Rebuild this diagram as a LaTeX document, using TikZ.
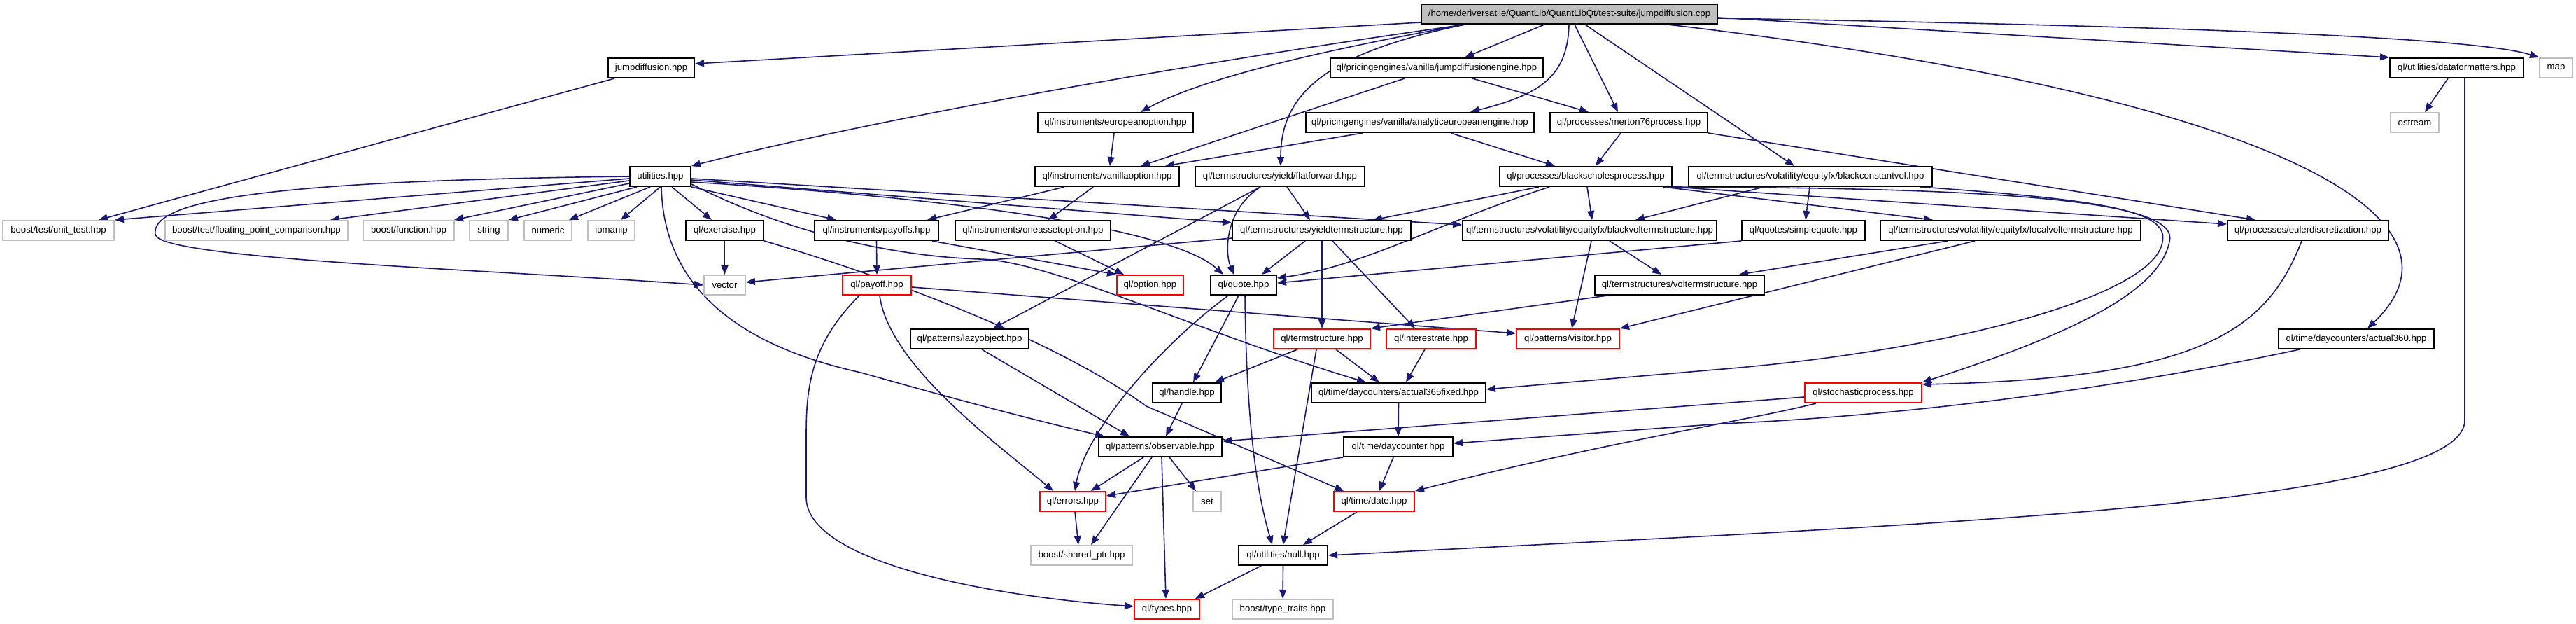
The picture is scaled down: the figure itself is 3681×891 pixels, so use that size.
\documentclass[tikz,border=0pt]{standalone}
\usepackage{fontspec}
\setmainfont{Liberation Sans}
\usetikzlibrary{arrows.meta}
\definecolor{edgecol}{HTML}{191970}
\definecolor{greyb}{HTML}{BFBFBF}
\definecolor{redb}{HTML}{FF0000}
\pgfdeclarelayer{back}
\pgfdeclarelayer{edges}
\pgfsetlayers{back,edges,main}
\tikzset{
  box/.style={draw=black, line width=2pt, fill=white, minimum height=28pt, inner sep=0pt, font=\fontsize{13.2}{15}\selectfont, text=black},
  ext/.style={box, draw=greyb},
  trunc/.style={box, draw=redb},
  root/.style={box, fill=greyb},
  dep/.style={draw=edgecol, line width=1.6pt, -{Triangle[length=13pt,width=10pt]}},
}
\begin{document}
\begin{tikzpicture}[x=1pt,y=-1pt]
\useasboundingbox (0,0) rectangle (3681,891);
\begin{pgfonlayer}{back}
\fill[white] (0,0) rectangle (3681,891);
\end{pgfonlayer}
% row 0
\node[root, minimum width=423pt] (main) at (2242.5,20) {/home/deriversatile/QuantLib/QuantLibQt/test-suite/jumpdiffusion.cpp};
% row 1
\node[box, minimum width=123pt] (jd) at (930.5,97) {jumpdiffusion.hpp};
\node[box, minimum width=304pt] (jde) at (2053,97) {ql/pricingengines/vanilla/jumpdiffusionengine.hpp};
\node[box, minimum width=191pt] (df) at (3510.5,97) {ql/utilities/dataformatters.hpp};
\node[ext, minimum width=47pt] (map) at (3652.5,97) {map};
% row 2
\node[box, minimum width=222pt] (eo) at (1594,175) {ql/instruments/europeanoption.hpp};
\node[box, minimum width=326pt] (aee) at (2029,175) {ql/pricingengines/vanilla/analyticeuropeanengine.hpp};
\node[box, minimum width=225pt] (m76) at (2327.5,175) {ql/processes/merton76process.hpp};
\node[ext, minimum width=69pt] (ostream) at (3450.5,175) {ostream};
% row 3
\node[box, minimum width=87pt] (util) at (943.5,252) {utilities.hpp};
\node[box, minimum width=206pt] (vo) at (1582,252) {ql/instruments/vanillaoption.hpp};
\node[box, minimum width=242pt] (ff) at (1829,252) {ql/termstructures/yield/flatforward.hpp};
\node[box, minimum width=246pt] (bsp) at (2266,252) {ql/processes/blackscholesprocess.hpp};
\node[box, minimum width=348pt] (bcv) at (2587,252) {ql/termstructures/volatility/equityfx/blackconstantvol.hpp};
% row 4
\node[ext, minimum width=159pt] (ut) at (83.5,329) {boost/test/unit\_test.hpp};
\node[ext, minimum width=261pt] (fpc) at (366.5,329) {boost/test/floating\_point\_comparison.hpp};
\node[ext, minimum width=130pt] (fn) at (584,329) {boost/function.hpp};
\node[ext, minimum width=55pt] (str) at (698.5,329) {string};
\node[ext, minimum width=68pt] (num) at (783,329) {numeric};
\node[ext, minimum width=67pt] (iom) at (873.5,329) {iomanip};
\node[box, minimum width=111pt] (ex) at (1035.5,329) {ql/exercise.hpp};
\node[box, minimum width=177pt] (pays) at (1252.5,329) {ql/instruments/payoffs.hpp};
\node[box, minimum width=222pt] (oao) at (1476,329) {ql/instruments/oneassetoption.hpp};
\node[box, minimum width=255pt] (yts) at (1888.5,329) {ql/termstructures/yieldtermstructure.hpp};
\node[box, minimum width=363pt] (bvts) at (2271.5,329) {ql/termstructures/volatility/equityfx/blackvoltermstructure.hpp};
\node[box, minimum width=176pt] (sq) at (2577,329) {ql/quotes/simplequote.hpp};
\node[box, minimum width=372pt] (lvts) at (2873,329) {ql/termstructures/volatility/equityfx/localvoltermstructure.hpp};
\node[box, minimum width=230pt] (eul) at (3298,329) {ql/processes/eulerdiscretization.hpp};
% row 5
\node[ext, minimum width=59pt] (vec) at (1035.5,407) {vector};
\node[trunc, minimum width=98pt] (pay) at (1253,407) {ql/payoff.hpp};
\node[trunc, minimum width=95pt] (opt) at (1643.5,407) {ql/option.hpp};
\node[box, minimum width=94pt] (quote) at (1777,407) {ql/quote.hpp};
\node[box, minimum width=242pt] (vts) at (2400,407) {ql/termstructures/voltermstructure.hpp};
% row 6
\node[box, minimum width=169pt] (lazy) at (1385.5,484) {ql/patterns/lazyobject.hpp};
\node[trunc, minimum width=138pt] (ts) at (1889,484) {ql/termstructure.hpp};
\node[trunc, minimum width=128pt] (ir) at (2045,484) {ql/interestrate.hpp};
\node[trunc, minimum width=147pt] (vis) at (2240.5,484) {ql/patterns/visitor.hpp};
\node[box, minimum width=222pt] (a360) at (3367,484) {ql/time/daycounters/actual360.hpp};
% row 7
\node[box, minimum width=98pt] (handle) at (1696,561) {ql/handle.hpp};
\node[box, minimum width=249pt] (a365) at (1998.5,561) {ql/time/daycounters/actual365fixed.hpp};
\node[trunc, minimum width=167pt] (sp) at (2662.5,561) {ql/stochasticprocess.hpp};
% row 8
\node[box, minimum width=176pt] (obs) at (1658,638) {ql/patterns/observable.hpp};
\node[box, minimum width=156pt] (dc) at (1998,638) {ql/time/daycounter.hpp};
% row 9
\node[trunc, minimum width=94pt] (err) at (1533,716) {ql/errors.hpp};
\node[ext, minimum width=40pt] (set) at (1725,716) {set};
\node[trunc, minimum width=115pt] (date) at (1963.5,716) {ql/time/date.hpp};
% row 10
\node[ext, minimum width=145pt] (sptr) at (1545.5,793) {boost/shared\_ptr.hpp};
\node[box, minimum width=127pt] (null) at (1833.5,793) {ql/utilities/null.hpp};
% row 11
\node[trunc, minimum width=93pt] (types) at (1667.5,870) {ql/types.hpp};
\node[ext, minimum width=144pt] (tt) at (1833,870) {boost/type\_traits.hpp};

\begin{pgfonlayer}{edges}
% main
\draw[dep] ([yshift=-12pt]main.west) -- ([yshift=6pt]jd.east);
\draw[dep] ([xshift=-149.5pt]main.south) .. controls (1700,90) and (1250,170) .. (util.north east);
\draw[dep] ([xshift=-149.5pt]main.south) .. controls (1900,70) and (1720,110) .. ([xshift=36pt]eo.north);
\draw[dep] ([xshift=-149.5pt]main.south) .. controls (1900,75) and (1830,130) .. ([xshift=1pt]ff.north);
\draw[dep] ([xshift=-35.5pt]main.south) -- ([xshift=40pt]jde.north);
\draw[dep] ([xshift=-0.5pt]main.south) .. controls (2240,110) and (2200,135) .. ([xshift=72pt]aee.north);
\draw[dep] ([xshift=7.5pt]main.south) -- ([xshift=-15.5pt]m76.north);
\draw[dep] ([xshift=22.5pt]main.south) -- ([xshift=-23pt]bcv.north);
\draw[dep] ([yshift=-5pt]main.east) -- (df.north west);
\draw[dep] ([yshift=-6pt]main.east) .. controls (3300,40) and (3560,60) .. (map.north west);
\draw[dep] ([xshift=140.5pt]main.south) .. controls (3200,130) and (3560,300) .. ([xshift=16pt]a360.north);
% jumpdiffusion
\draw[dep] ([xshift=-52.5pt]jd.south) -- ([xshift=57.5pt]ut.north);
% utilities
\draw[dep] ([yshift=-3pt]util.west) -- (ut.north east);
\draw[dep] ([yshift=-6pt]util.west) -- ([xshift=105.5pt]fpc.north);
\draw[dep] ([yshift=-10pt]util.west) -- ([xshift=65pt]fn.north);
\draw[dep] ([xshift=-33.5pt]util.south) -- (str.north east);
\draw[dep] ([xshift=-14.5pt]util.south) -- ([xshift=30pt]num.north);
\draw[dep] (util.south) -- ([xshift=13.5pt]iom.north);
\draw[dep] ([xshift=16.5pt]util.south) -- ([xshift=-18.5pt]ex.north);
\draw[dep] (util.south east) -- ([xshift=-57.5pt]pays.north);
\draw[dep] ([yshift=-5pt]util.east) -- ([yshift=11pt]yts.west);
\draw[dep] ([yshift=-3pt]util.east) -- ([yshift=8pt]bvts.west);
\draw[dep] ([yshift=-8pt]util.east) .. controls (1400,285) and (1680,330) .. ([xshift=-29pt]quote.north);
\draw[dep] ([yshift=-11pt]util.east) .. controls (1100,320) and (1250,365) .. (1400,370) .. controls (1500,372) and (1700,470) .. ([xshift=-46.5pt]a365.north);
\draw[dep] ([xshift=1.5pt]util.south) .. controls (948,400) and (1040,490) .. (1230,532) .. controls (1400,580) and (1500,605) .. ([xshift=-80pt]obs.north);
\draw[dep] (util.west) .. controls (350,258) and (215,290) .. (222,335) .. controls (230,370) and (700,385) .. (vec.west);
% row 1-2
\draw[dep] ([xshift=-2pt]eo.south) -- ([xshift=4pt]vo.north);
\draw[dep] ([xshift=-46pt]jde.south) -- ([xshift=48pt]vo.north);
\draw[dep] ([xshift=51pt]jde.south) -- ([xshift=-57.5pt]m76.north);
\draw[dep] ([xshift=-82pt]aee.south) -- ([xshift=83pt]vo.north);
\draw[dep] ([xshift=44pt]aee.south) -- ([xshift=-44pt]bsp.north);
\draw[dep] ([xshift=-11.5pt]m76.south) -- ([xshift=14pt]bsp.north);
\draw[dep] (m76.south east) -- ([xshift=-75pt]eul.north);
\draw[dep] ([xshift=-12.5pt]df.south) -- ([xshift=14.5pt]ostream.north);
\draw[dep] ([xshift=11.5pt]df.south) -- (3522,600) .. controls (3522,700) and (3000,735) .. (2450,765) -- (null.east);
% row 3
\draw[dep] ([xshift=-61pt]vo.south) -- ([xshift=72.5pt]pays.north);
\draw[dep] ([xshift=-20pt]vo.south) -- ([xshift=22pt]oao.north);
\draw[dep] ([xshift=10pt]ff.south) -- ([xshift=-16.5pt]yts.north);
\draw[dep] ([xshift=-28pt]ff.south) .. controls (1750,300) and (1750,360) .. ([xshift=-14pt]quote.north);
\draw[dep] ([xshift=-28pt]ff.south) -- ([xshift=33.5pt]lazy.north);
\draw[dep] ([xshift=-67pt]bsp.south) -- ([xshift=73.5pt]yts.north);
\draw[dep] ([xshift=-52pt]bsp.south) .. controls (2050,320) and (1950,380) .. ([yshift=10pt]quote.east);
\draw[dep] ([xshift=2pt]bsp.south) -- ([xshift=3.5pt]bvts.north);
\draw[dep] ([xshift=111pt]bsp.south) -- ([xshift=-111pt]lvts.north);
\draw[dep] (bsp.south east) -- ([yshift=9pt]eul.west);
\draw[dep] ([xshift=118pt]bsp.south) .. controls (2900,268) and (3115,290) .. (3100,345) .. controls (3085,420) and (2950,480) .. (sp.north east);
\draw[dep] ([xshift=-67pt]bcv.south) -- ([xshift=65.5pt]bvts.north);
\draw[dep] ([xshift=-1pt]bcv.south) -- ([xshift=3pt]sq.north);
\draw[dep] ([xshift=157pt]bcv.south) .. controls (3000,285) and (3100,300) .. (3090,345) .. controls (3080,420) and (2800,500) .. (2450,528) -- ([yshift=5pt]a365.east);
% row 4
\draw[dep] (ex.south) -- (vec.north);
\draw[dep] (ex.south east) .. controls (1250,390) and (1500,480) .. (1638,580) -- ([xshift=-43.5pt]date.north);
\draw[dep] (pays.south) -- (pay.north);
\draw[dep] ([xshift=79.5pt]pays.south) -- (opt.north west);
\draw[dep] ([xshift=32pt]oao.south) -- ([xshift=-37.5pt]opt.north);
\draw[dep] ([yshift=-11pt]yts.west) -- ([yshift=4pt]vec.east);
\draw[dep] ([xshift=-23.5pt]yts.south) -- ([xshift=26pt]quote.north);
\draw[dep] ([xshift=0.5pt]yts.south) -- (ts.north);
\draw[dep] ([xshift=15.5pt]yts.south) -- ([xshift=-23pt]ir.north);
\draw[dep] ([xshift=2.5pt]bvts.south) -- ([xshift=5.5pt]vis.north);
\draw[dep] ([xshift=28.5pt]bvts.south) -- ([xshift=-26pt]vts.north);
\draw[dep] (sq.south west) -- ([yshift=3pt]quote.east);
\draw[dep] ([xshift=-90pt]lvts.south) -- ([xshift=85pt]vts.north);
\draw[dep] ([xshift=-51pt]lvts.south) -- (vis.north east);
\draw[dep] ([xshift=-9pt]eul.south) .. controls (3240,470) and (3150,540) .. ([yshift=12pt]sp.east);
% row 5-6
\draw[dep] ([xshift=-81pt]a360.south) .. controls (3000,560) and (2700,595) .. (2460,605) -- ([yshift=5pt]dc.east);
\draw[dep] ([yshift=-3pt]pay.east) -- ([yshift=8pt]vis.west);
\draw[dep] ([xshift=4pt]pay.south) .. controls (1270,520) and (1420,630) .. ([xshift=-28pt]err.north);
\draw[dep] ([xshift=-25pt]pay.south) .. controls (1160,490) and (1152,550) .. (1152,620) -- (1152,710) .. controls (1152,800) and (1400,850) .. ([yshift=4pt]types.west);
\draw[dep] ([xshift=-7pt]quote.south) -- ([xshift=9pt]handle.north);
\draw[dep] ([xshift=-22pt]quote.south) .. controls (1650,500) and (1550,620) .. ([xshift=3pt]err.north);
\draw[dep] ([xshift=2pt]quote.south) .. controls (1781,600) and (1795,700) .. ([xshift=-15.5pt]null.north);
\draw[dep] ([xshift=-103pt]vts.south) -- (ts.north east);
\draw[dep] ([xshift=17.5pt]lazy.south) -- ([xshift=-44pt]obs.north);
\draw[dep] ([xshift=-35pt]ts.south) -- ([xshift=40pt]handle.north);
\draw[dep] ([xshift=20pt]ts.south) -- ([xshift=-27.5pt]a365.north);
\draw[dep] ([xshift=-8pt]ts.south) -- (null.north);
\draw[dep] ([xshift=-9pt]ir.south) -- ([xshift=10.5pt]a365.north);
% row 7+
\draw[dep] ([xshift=-7pt]handle.south) -- ([xshift=8pt]obs.north);
\draw[dep] (a365.south) -- (dc.north);
\draw[dep] ([yshift=-6pt]sp.west) -- ([yshift=8pt]obs.east);
\draw[dep] ([xshift=-67.5pt]sp.south) .. controls (2500,600) and (2300,630) .. (date.north east);
\draw[dep] ([xshift=-24pt]obs.south) -- ([xshift=26pt]err.north);
\draw[dep] ([xshift=-12pt]obs.south) -- ([xshift=13.5pt]sptr.north);
\draw[dep] ([xshift=2pt]obs.south) -- ([xshift=-1.5pt]types.north);
\draw[dep] ([xshift=13pt]obs.south) -- ([xshift=-16pt]set.north);
\draw[dep] (dc.south west) -- ([yshift=8pt]err.east);
\draw[dep] ([xshift=-7pt]dc.south) -- ([xshift=7.5pt]date.north);
\draw[dep] ([xshift=3pt]err.south) -- ([xshift=-4.5pt]sptr.north);
\draw[dep] ([xshift=-24.5pt]date.south) -- ([xshift=28.5pt]null.north);
\draw[dep] ([xshift=-31.5pt]null.south) -- ([xshift=40.5pt]types.north);
\draw[dep] (null.south) -- (tt.north);
\end{pgfonlayer}
\end{tikzpicture}
\end{document}
